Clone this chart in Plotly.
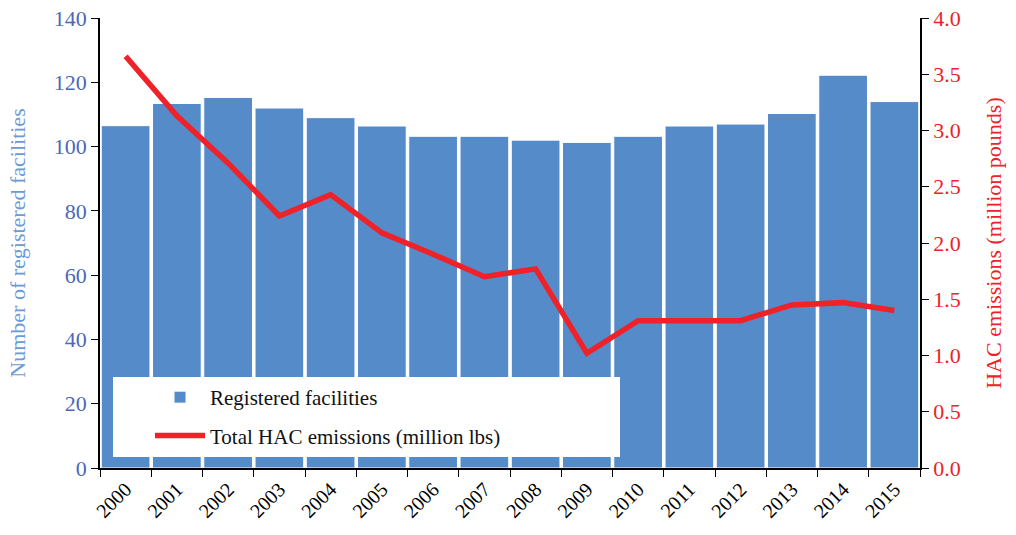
import plotly.graph_objects as go

years = [str(y) for y in range(2000, 2016)]
facilities = [106.5, 113.4, 115.3, 112.0, 109.0, 106.4, 103.2, 103.2, 102.0, 101.3,
              103.2, 106.4, 107.0, 110.3, 122.2, 114.0]
emissions = [3.66, 3.13, 2.71, 2.24, 2.43, 2.09, 1.90, 1.70, 1.77, 1.02,
             1.31, 1.31, 1.31, 1.45, 1.47, 1.40]

FONT = "Liberation Serif"
BAR = "#568BC9"
RED = "#EE2228"

fig = go.Figure()
fig.add_trace(go.Bar(
    x=years, y=facilities, name="Registered facilities",
    marker=dict(color=BAR, line=dict(color="white", width=1)),
    legendgroup="a",
))
fig.add_trace(go.Scatter(
    x=years, y=emissions, name="Total HAC emissions (million lbs)",
    mode="lines", line=dict(color=RED, width=5.5), yaxis="y2",
    legendgroup="b",
))

L, R, T, B = 100, 96, 18, 67
W, H = 1016, 535
pw, ph = W - L - R, H - T - B

def px2paper_x(px):
    return (px - L) / pw

def px2paper_y(py):
    return (H - B - py) / ph

fig.add_shape(type="rect", xref="paper", yref="paper",
              x0=px2paper_x(113), x1=px2paper_x(620),
              y0=px2paper_y(457), y1=px2paper_y(377),
              fillcolor="white", line=dict(width=0), layer="above")

fig.update_layout(
    width=W, height=H,
    margin=dict(l=L, r=R, t=T, b=B, autoexpand=False),
    paper_bgcolor="white", plot_bgcolor="white",
    font=dict(family=FONT, size=21, color="black"),
    bargap=0.05,
    showlegend=True,
    legend=dict(
        x=px2paper_x(150), y=px2paper_y(377), xanchor="left", yanchor="top",
        bgcolor="rgba(0,0,0,0)", font=dict(family=FONT, size=21, color="#111111"),
        traceorder="grouped", tracegroupgap=8, itemwidth=50,
    ),
    xaxis=dict(
        type="category", tickson="boundaries", ticks="outside", ticklen=7,
        tickcolor="black", showline=True, linecolor="black", linewidth=1.5,
        tickangle=-45, tickfont=dict(size=20, color="black"),
        showgrid=False, range=[-0.5, 15.5], automargin=False,
    ),
    yaxis=dict(
        range=[0, 140], dtick=20, ticks="outside", ticklen=7, tickcolor="black",
        showline=True, linecolor="black", linewidth=1.5, showgrid=False,
        zeroline=False, automargin=False,
        tickfont=dict(size=22, color="#4A69B8"),
        title=dict(text="Number of registered facilities",
                   font=dict(size=22, color="#6C9AD6"), standoff=22),
    ),
    yaxis2=dict(
        range=[0, 4.0], dtick=0.5, tickformat=".1f", overlaying="y", side="right",
        ticks="outside", ticklen=7, tickcolor="black", showline=True,
        linecolor="black", linewidth=1.5, showgrid=False, zeroline=False,
        automargin=False,
        tickfont=dict(size=22, color=RED),
        title=dict(text="HAC emissions (million pounds)",
                   font=dict(size=22, color=RED), standoff=26),
    ),
)

fig.write_html(
    "out.html",
    config={"displayModeBar": False},
    post_script="document.body.style.margin='0';document.body.style.overflow='hidden';",
)
